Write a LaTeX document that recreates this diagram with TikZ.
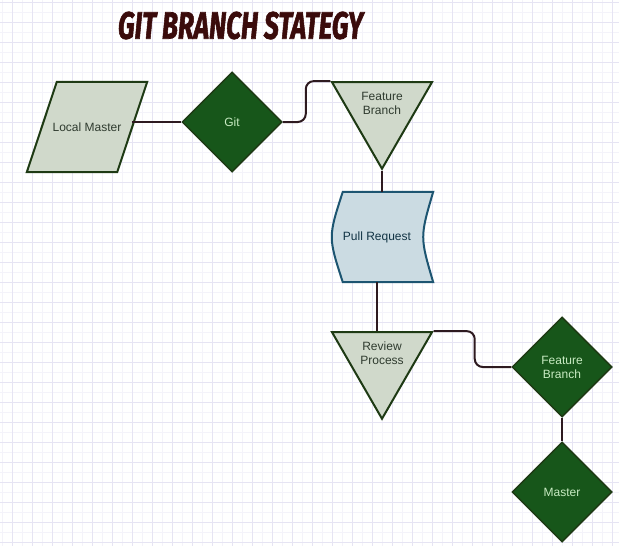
\documentclass[tikz,border=0pt]{standalone}
\usepackage{graphicx}
\usepackage{fontspec}
\setmainfont{Liberation Sans}
\newfontfamily\titlefont{Fira Sans}[FakeBold=2]
\usetikzlibrary{shapes.geometric, calc, backgrounds, positioning}
\definecolor{cgrid}{HTML}{E6E4F3}
\definecolor{cgridlight}{HTML}{F4F3FA}
\definecolor{cpale}{HTML}{D0D9CB}
\definecolor{cedge}{HTML}{1E3A14}
\definecolor{cforest}{HTML}{17561A}
\definecolor{cmint}{HTML}{C8EBC2}
\definecolor{cink}{HTML}{2F3B2F}
\definecolor{csky}{HTML}{CBDBE2}
\definecolor{csea}{HTML}{1D5571}
\definecolor{clink}{HTML}{2E1A20}
\definecolor{ctitle}{HTML}{3A0B0B}

\begin{document}
\begin{tikzpicture}[
  x=1pt, y=-1pt,
  font=\fontsize{12}{14}\selectfont,
  gridmajor/.style={draw=cgrid, line width=0.6pt},
  gridminor/.style={draw=cgridlight, line width=0.5pt},
  slantbox/.style={draw=cedge, fill=cpale, line width=2pt},
  decision/.style={
    diamond, minimum width=100, minimum height=100, inner sep=0pt,
    draw=cedge, fill=cforest, line width=1.5pt, text=cmint, align=center
  },
  mergebox/.style={
    regular polygon, regular polygon sides=3, shape border rotate=180,
    minimum size=115.5, inner sep=0pt,
    draw=cedge, fill=cpale, line width=2pt
  },
  mergetext/.style={text=cink, align=center},
  storebox/.style={draw=csea, fill=csky, line width=2pt},
  link/.style={draw=clink, line width=2pt},
  steplink/.style={link, rounded corners=8}
]
\useasboundingbox (0,0) rectangle (619,546);

% background grid
\begin{scope}[on background layer]
  \clip (0,0) rectangle (619,546);
  \foreach \gx in {2,22,...,612} \draw[gridminor] (\gx,0) -- (\gx,546);
  \foreach \gy in {12,32,...,542} \draw[gridminor] (0,\gy) -- (619,\gy);
  \foreach \gx in {12,32,...,612} \draw[gridmajor] (\gx,0) -- (\gx,546);
  \foreach \gy in {2,22,...,542} \draw[gridmajor] (0,\gy) -- (619,\gy);
\end{scope}

% title
\node[text=ctitle, inner sep=0pt] (title) at (240.5,25.5)
  {\resizebox{245pt}{27pt}{\titlefont\bfseries\itshape GIT BRANCH STATEGY}};

% ============================================================
% Top row: local master -> git -> feature branch
\node[minimum width=90, minimum height=90, inner sep=0pt, text=cink] (local) at (87,127) {Local Master};
\begin{scope}[on background layer]
  \draw[slantbox] ([xshift=15]local.north west) -- ([xshift=15]local.north east)
    -- ([xshift=-15]local.south east) -- ([xshift=-15]local.south west) -- cycle;
\end{scope}
\node[decision] (git) at (232,122) {Git};
\node[mergebox] (feat) at (382,111) {};
\node[mergetext] (feattext) at (382,103) {Feature\\Branch};

\draw[link] (local.east |- git.west) -- (git.west);
\draw[steplink] (git.east) -- ++(23,0) |- (feat.corner 3);

% ============================================================
% Middle: pull request, review
\node (pull) at (377,237) [minimum width=90, minimum height=90, text=csea!60!black] {Pull Request};
\begin{scope}[on background layer]
  \draw[storebox] ([xshift=11]pull.north west) -- ([xshift=11]pull.north east)
    .. controls ([xshift=-2.3]pull.east) .. ([xshift=11]pull.south east)
    -- ([xshift=11]pull.south west)
    .. controls ([xshift=-3.7]pull.west) .. cycle;
\end{scope}

\node[mergebox] (review) at (382,361) {};
\node[mergetext] (reviewtext) at (382,353) {Review\\Process};

\draw[link] (feat.corner 1) -- (feat.corner 1 |- pull.north);
\draw[link] (pull.south) -- (pull.south |- review.corner 2);

% ============================================================
% Bottom right: feature branch -> master
\node[decision] (branch) at (562,367) {Feature\\Branch};
\node[decision] (master) at (562,492) {Master};

\draw[steplink] (review.corner 2) -- ++(41,0) |- (branch.west);
\draw[link] (branch.south) -- (master.north);

\end{tikzpicture}
\end{document}
